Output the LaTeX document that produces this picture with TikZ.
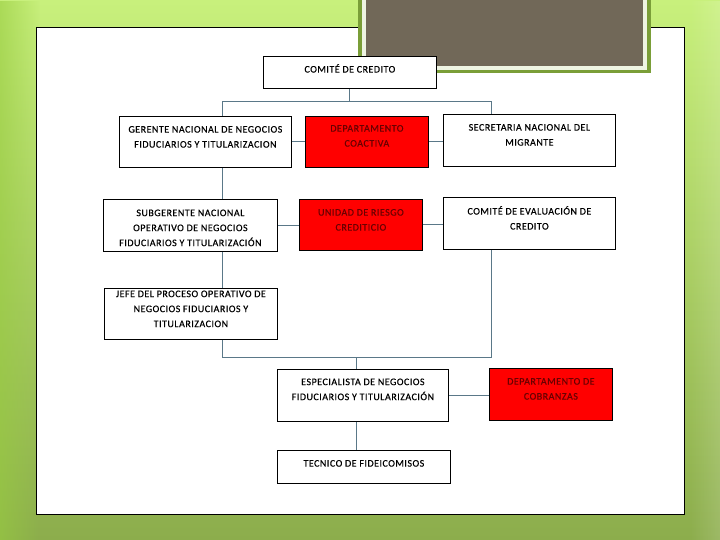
\documentclass[tikz,border=0pt]{standalone}
\usepackage{fontspec}
\setmainfont{Carlito}[LetterSpace=5, FakeBold=0.5]
\usetikzlibrary{fadings}

\definecolor{bgtop}{HTML}{C8F07C}
\definecolor{bgbot}{HTML}{8CAD4C}
\definecolor{bgside}{HTML}{98CC40}
\definecolor{ttlgreen}{HTML}{7A9E38}
\definecolor{ttlpale}{HTML}{EEF4E2}
\definecolor{ttlgray}{HTML}{716858}
\definecolor{linkblue}{HTML}{5A7888}
\definecolor{boxred}{HTML}{FF0000}
\definecolor{txtred}{HTML}{6A0000}

\tikzset{
  box/.style={draw=black, line width=0.8pt, fill=white, anchor=north west, inner sep=0pt},
  redbox/.style={box, fill=boxred},
  txt/.style={align=center, inner sep=0pt, font=\fontsize{10}{15}\selectfont},
  redtxt/.style={txt, text=txtred},
  link/.style={draw=linkblue, line width=1pt},
}

\begin{document}
\begin{tikzpicture}[x=1pt,y=-1pt]
\useasboundingbox (0,0) rectangle (720,540);
%%Background
\fill[top color=bgtop, bottom color=bgbot] (0,0) rectangle (720,540);
\fill[bgside, path fading=east, opacity=0.6] (0,0) rectangle (40,540);
\fill[white, path fading=west, opacity=0.15] (690,0) rectangle (720,540);
%%Panel
\draw[black, line width=0.8pt, fill=white] (36,27) rectangle (684,514);
%%Title box
\fill[ttlgreen] (358,-1) rectangle (651,73);
\fill[ttlpale] (362,-1) rectangle (647,70);
\fill[ttlgray] (366,-1) rectangle (643,66);

%%Boxes
\node[box, minimum width=173pt, minimum height=32pt] (top) at (263,56) {};
\node[box, minimum width=172pt, minimum height=51pt] (gerente) at (119,116) {};
\node[redbox, minimum width=123pt, minimum height=51pt] (coactiva) at (305,116) {};
\node[box, minimum width=172pt, minimum height=52pt] (secretaria) at (443,114) {};
\node[box, minimum width=174pt, minimum height=52pt] (subgerente) at (103,199) {};
\node[redbox, minimum width=123pt, minimum height=51pt] (riesgo) at (299,199) {};
\node[box, minimum width=172pt, minimum height=52pt] (evaluacion) at (443,197) {};
\node[box, minimum width=173pt, minimum height=51pt] (jefe) at (104,288) {};
\node[box, minimum width=171pt, minimum height=52pt] (especialista) at (277,369) {};
\node[redbox, minimum width=123pt, minimum height=52pt] (cobranzas) at (489,368) {};
\node[box, minimum width=173pt, minimum height=33pt] (tecnico) at (277,450) {};

%%Labels
\node[txt, yshift=4pt] (top-t) at (top) {COMITÉ DE CREDITO};
\node[txt, yshift=5pt] (gerente-t) at (gerente) {GERENTE NACIONAL DE NEGOCIOS\\FIDUCIARIOS Y TITULARIZACION};
\node[redtxt, yshift=6pt] (coactiva-t) at (coactiva) {DEPARTAMENTO\\COACTIVA};
\node[txt, yshift=5.5pt] (secretaria-t) at (secretaria) {SECRETARIA NACIONAL DEL\\MIGRANTE};
\node[txt, yshift=-2.5pt] (subgerente-t) at (subgerente) {SUBGERENTE NACIONAL\\OPERATIVO DE NEGOCIOS\\FIDUCIARIOS Y TITULARIZACIÓN};
\node[redtxt, yshift=5pt] (riesgo-t) at (riesgo) {UNIDAD DE RIESGO\\CREDITICIO};
\node[txt, yshift=5.5pt] (evaluacion-t) at (evaluacion) {COMITÉ DE EVALUACIÓN DE\\CREDITO};
\node[txt, yshift=5pt] (jefe-t) at (jefe) {JEFE DEL PROCESO OPERATIVO DE\\NEGOCIOS FIDUCIARIOS Y\\TITULARIZACION};
\node[txt, yshift=6pt] (especialista-t) at (especialista) {ESPECIALISTA DE NEGOCIOS\\FIDUCIARIOS Y TITULARIZACIÓN};
\node[redtxt, yshift=5.5pt] (cobranzas-t) at (cobranzas) {DEPARTAMENTO DE\\COBRANZAS};
\node[txt, yshift=3.5pt] (tecnico-t) at (tecnico) {TECNICO DE FIDEICOMISOS};

%%Connectors
\coordinate (busl) at (222,102);
\coordinate (busr) at (491,102);
\coordinate (busb) at (491,357);
\coordinate (spx) at (356,357);
\draw[link] (top.south) -- (top.south |- busl);
\draw[link] (busl |- gerente.north) -- (busl) -- (busr) -- (busr |- secretaria.north);
\draw[link] (busl |- gerente.south) -- (busl |- subgerente.north);
\draw[link] (busl |- subgerente.south) -- (busl |- jefe.north);
\draw[link] (busl |- jefe.south) -- (busl |- busb) -- (busb) -- (busb |- evaluacion.south);
\draw[link] (spx) -- (spx |- especialista.north);
\draw[link] (spx |- especialista.south) -- (spx |- tecnico.north);
\draw[link] (gerente.east) -- (coactiva.west);
\draw[link] (coactiva.east) -- (coactiva.east -| secretaria.west);
\draw[link] (subgerente.east) -- (subgerente.east -| riesgo.west);
\draw[link] (riesgo.east) -- (riesgo.east -| evaluacion.west);
\draw[link] (especialista.east) -- (especialista.east -| cobranzas.west);
\end{tikzpicture}
\end{document}
